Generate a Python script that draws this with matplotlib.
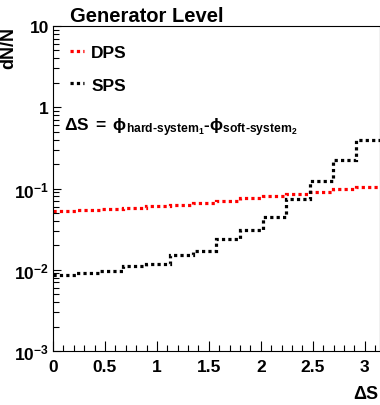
import numpy as np
import matplotlib
matplotlib.use("Agg")
import matplotlib.pyplot as plt
from matplotlib.ticker import FixedLocator, FuncFormatter, LogLocator, MultipleLocator
from matplotlib.lines import Line2D

plt.rcParams['font.family'] = ['Liberation Sans', 'DejaVu Sans']
plt.rcParams['font.weight'] = 'bold'
plt.rcParams['mathtext.fontset'] = 'custom'
plt.rcParams['mathtext.rm'] = 'Liberation Sans:bold'
plt.rcParams['mathtext.bf'] = 'Liberation Sans:bold'
plt.rcParams['mathtext.it'] = 'Liberation Sans:bold'

# 14 bins between 0 and pi
edges = np.linspace(0, np.pi, 15)
dps = [0.0524, 0.0544, 0.0560, 0.0575, 0.0604, 0.0621, 0.0658,
       0.0708, 0.0764, 0.0815, 0.0855, 0.0898, 0.0977, 0.1035]
sps = [0.0086, 0.0091, 0.0097, 0.0110, 0.0118, 0.0153, 0.0171,
       0.0239, 0.0309, 0.0450, 0.0743, 0.1236, 0.2260, 0.3990]

fig = plt.figure(figsize=(3.8, 4.06), dpi=100)
ax = fig.add_axes([53/380, 54/406, 326.5/380, 325/406])

dot = (0, (1, 1))
ax.stairs(dps, edges, color='#ff0000', lw=2.3, linestyle=dot, baseline=None)
ax.stairs(sps, edges, color='black', lw=2.3, linestyle=dot, baseline=None)

ax.set_yscale('log')
ax.set_ylim(1e-3, 10)
ax.set_xlim(0, np.pi)

ax.xaxis.set_major_locator(MultipleLocator(0.5))
ax.xaxis.set_minor_locator(MultipleLocator(0.1))
ax.xaxis.set_major_formatter(FuncFormatter(lambda v, p: '%g' % v))

def ylab(v, p):
    if v >= 1:
        return '%g' % v
    return r'$\mathbf{10^{%d}}$' % int(round(np.log10(v)))

ax.yaxis.set_major_locator(FixedLocator([1e-3, 1e-2, 1e-1, 1, 10]))
ax.yaxis.set_minor_locator(LogLocator(base=10, subs=np.arange(2, 10), numticks=20))
ax.yaxis.set_major_formatter(FuncFormatter(ylab))

ax.tick_params(which='both', direction='in', labelsize=12.5, width=0.8)
ax.tick_params(axis='x', which='major', length=7, pad=6)
ax.tick_params(axis='x', which='minor', length=4)
ax.tick_params(axis='y', which='major', length=6, pad=3)
ax.tick_params(axis='y', which='minor', length=4)
ax.tick_params(top=False, right=False, which='both')
for s in ax.spines.values():
    s.set_linewidth(0.8)

ax.set_ylabel('dN/N', fontsize=13, fontweight='bold', loc='top')
ax.yaxis.set_label_coords(-0.11, 1.0)
ax.set_xlabel(r'$\Delta$S', fontsize=13, fontweight='bold', loc='right')
ax.xaxis.set_label_coords(1.0, -0.105)

ax.text(0.052, 1.015, 'Generator Level', transform=ax.transAxes, fontsize=14.5,
        fontweight='bold', va='baseline', ha='left')

handles = [Line2D([], [], color='#ff0000', lw=2.3, linestyle=dot),
           Line2D([], [], color='black', lw=2.3, linestyle=dot)]
ax.legend(handles, ['DPS', 'SPS'], loc='upper left', bbox_to_anchor=(0.005, 0.99),
          frameon=False, handlelength=0.8, handletextpad=0.4, labelspacing=1.0,
          prop={'size': 12.5, 'weight': 'bold'})

ax.text(0.035, 0.68,
        r'$\Delta S\;=\;\phi_{\text{hard-system}_1}\text{-}\phi_{\text{soft-system}_2}$',
        transform=ax.transAxes, fontsize=12.5, va='baseline', ha='left')

fig.savefig('out.png', dpi=100)
